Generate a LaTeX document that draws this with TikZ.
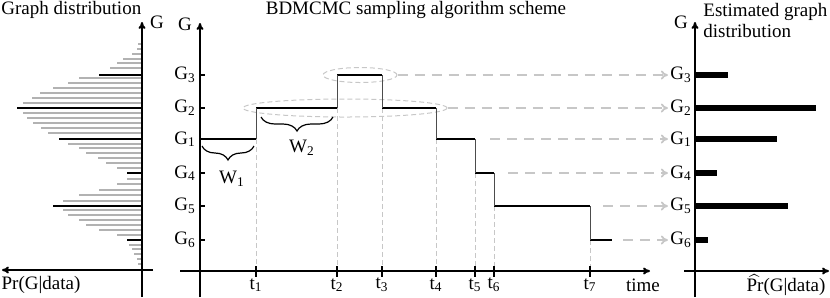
\documentclass[tikz,border=0pt]{standalone}
\usepackage{amsmath}
\usepackage{fontspec}
\setmainfont{Liberation Serif}
\usepackage{tikz}
\usetikzlibrary{arrows.meta,decorations.pathreplacing,shapes.geometric,positioning}

\begin{document}
\begin{tikzpicture}[
  x=0.5pt, y=-0.5pt,
  font=\fontsize{9.5}{10.5}\selectfont,
  axis/.style={line width=1pt, -{To[length=3.5pt,width=3.5pt]}},
  plainaxis/.style={line width=1pt},
  graybar/.style={black!30, line width=0.8pt},
  blackbar/.style={black, line width=1pt},
  stephi/.style={black, line width=1.1pt},
  stepup/.style={black!70, line width=0.4pt},
  guide/.style={black!22, line width=0.5pt, dash pattern=on 2.5pt off 1.5pt},
  maparrow/.style={black!22, line width=0.9pt, dash pattern=on 5pt off 3.5pt, -{To[length=3.5pt,width=4.5pt]}},
  ring/.style={ellipse, draw=black!22, line width=0.5pt, dash pattern=on 2.5pt off 1.5pt, inner sep=0pt},
  wbrace/.style={decorate, decoration={brace, mirror, amplitude=7pt}, line width=0.6pt},
  estbar/.style={black, line width=2.6pt},
  glabel/.style={inner sep=1pt},
  title/.style={anchor=west, inner sep=0pt, align=left}
]
\useasboundingbox (0,0) rectangle (830,297);

% left panel
\node[title] (ltitle) at (1,10) {Graph distribution};
\foreach \y/\x in {44/138,49/137,54/132,59/123,63/117,68/110,78/79,83/68,88/53,93/40,98/32,103/23,
  113/23,118/27,123/33,128/41,133/48,144/68,148/79,153/86,158/98,163/106,168/117,179/127,184/117,
  190/99,195/79,201/63,210/63,215/68,220/79,225/86,230/99,235/117,245/129,249/132,254/134,259/137,264/138}
  \draw[graybar] (\x,\y) -- (142,\y);
\foreach \y/\x in {75/99,108/17,139/59,173/127,206/53,240/127}
  \draw[blackbar] (\x,\y) -- (142,\y);
\draw[axis] (142,297) -- (142,22);
\draw[axis] (153,270) -- (2,270);
\node (lg) at (157,22) {G};
\node (lpr) at (41,285) {Pr(G|data)};

% middle panel
\node (mtitle) at (416,10) {BDMCMC sampling algorithm scheme};
\foreach \x/\y in {256/139,337/108,382/108,436/139,475/173,494/206,590/240}
  \draw[guide] (\x,\y) -- (\x,271);
\node[ring, minimum width=37pt, minimum height=7.5pt] (e3) at (360,75) {};
\node[ring, minimum width=102pt, minimum height=9pt] (e2) at (345,108) {};
\foreach \a/\b/\y in {200/256/139,256/337/108,337/382/75,382/436/108,436/475/139,475/494/173,494/590/206,590/612/240}
  \draw[stephi] (\a,\y) -- (\b,\y);
\foreach \x/\a/\b in {256/139/108,337/108/75,382/75/108,436/108/139,475/139/173,494/173/206,590/206/240}
  \draw[stepup] (\x,\a) -- (\x,\b);
\draw[axis] (200,297) -- (200,23);
\draw[axis] (180,271) -- (650,271);
\foreach \i/\y in {3/75,2/108,1/139,4/173,5/206,6/240} {
  \draw[plainaxis] (200,\y) -- (205,\y);
  \node (m\i) at (185,\y) {G\textsubscript{\i}};
}
\foreach \i/\x in {1/256,2/337,3/382,4/436,5/475,6/494,7/590} {
  \draw[plainaxis] (\x,266) -- (\x,277);
  \node (t\i) at (\x,285) {t\textsubscript{\i}};
}
\node (mg) at (185,24) {G};
\node (time) at (643,285) {time};
\draw[wbrace] (202,146) -- (254,146);
\node (w1) at (232,179) {W\textsubscript{1}};
\draw[wbrace] (261,117) -- (333,117);
\node (w2) at (302,148) {W\textsubscript{2}};

% right panel
\node[title] (rtitle) at (703,20) {Estimated graph\\distribution};
\draw[axis] (695,297) -- (695,22);
\draw[axis] (684,271) -- (829,271);
\node (rg) at (681,22) {G};
\foreach \i/\y/\x in {3/75/728,2/108/816,1/139/777,4/173/717,5/206/788,6/240/708} {
  \node[glabel] (r\i) at (681,\y) {G\textsubscript{\i}};
  \draw[estbar] (695,\y) -- (\x,\y);
}
\node (rpr) at (786,285) {$\widehat{\text{Pr}}$(G|data)};

% mapping arrows
\coordinate (s1) at (490,139);
\coordinate (s4) at (508,173);
\coordinate (s5) at (603,206);
\coordinate (s6) at (623,240);
\draw[maparrow] (e3.east) -- (e3.east -| r3.west);
\draw[maparrow] (e2.east) -- (e2.east -| r2.west);
\foreach \i in {1,4,5,6}
  \draw[maparrow] (s\i) -- (s\i -| r\i.west);
\end{tikzpicture}
\end{document}
